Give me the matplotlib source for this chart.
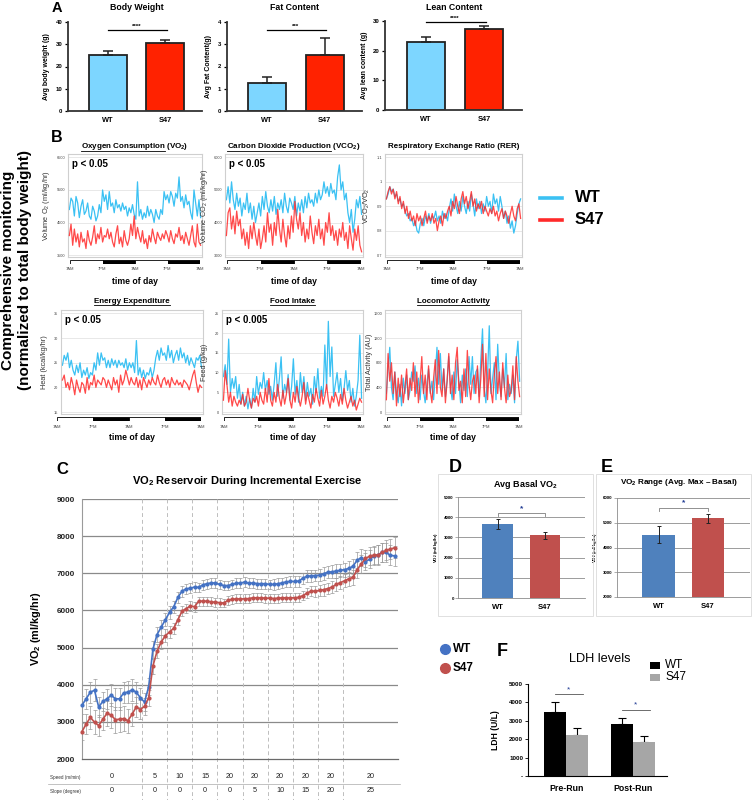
import numpy as np
import matplotlib
matplotlib.use("Agg")
import matplotlib.pyplot as plt
from matplotlib.patches import Rectangle
from matplotlib.lines import Line2D
import matplotlib.transforms as mtransforms

plt.rcParams['font.family'] = ['Liberation Sans', 'DejaVu Sans']
plt.rcParams['mathtext.fontset'] = 'custom'
plt.rcParams['mathtext.rm'] = 'Liberation Sans'
plt.rcParams['mathtext.it'] = 'Liberation Sans:italic'
plt.rcParams['mathtext.bf'] = 'Liberation Sans:bold'
plt.rcParams['mathtext.default'] = 'regular'

# ================= DATA =================
groups = ["WT", "S47"]

# Panel A
body_weight = [25.1, 30.6]
body_weight_err = [1.7, 1.2]
fat_content = [1.27, 2.53]
fat_content_err = [0.25, 0.77]
lean_content = [23.0, 27.2]
lean_content_err = [1.5, 1.0]

# Panel B (48 h recordings)
time_labels = ["7AM", "7PM", "7AM", "7PM", "7AM"]
time_ticks_h = [0, 12, 24, 36, 48]

vo2_wt_ts = [
    4900, 5250, 5150, 4700, 5300, 5100, 4650, 5000, 5200, 4750,
    4850, 5100, 4700, 4600, 5000, 4850, 4550, 4700, 5050, 4800,
    5500, 5150, 5350, 4900, 5450, 5000, 5100, 4800, 5200, 4950,
    5050, 4850, 5100, 4900, 5000, 4700, 4950, 4800, 5050, 4750,
    4600, 5750, 4700, 4900, 4600, 4800, 4650, 5000, 4700, 4900,
    4750, 4500, 4900, 4700, 4600, 4900, 4750, 5450, 5200, 5350,
    5100, 5450, 5300, 5000, 5400, 5250, 5900, 5150, 5300, 4950,
    5350, 5050, 5150, 4800, 4600, 5500, 5100, 4700, 5200, 4650]
vo2_s47_ts = [
    4100, 4450, 3800, 4300, 3900, 4150, 3750, 4200, 3900, 4000,
    3700, 4250, 3950, 3800, 4050, 4400, 3850, 4150, 4000, 4350,
    3900, 4100, 4050, 4300, 4000, 4200, 3900, 3750, 4150, 4400,
    3850, 4050, 3750, 4250, 3950, 3800, 4000, 4450, 4100, 4700,
    4000, 4350, 4100, 3900, 4250, 3850, 4000, 3700, 4100, 3900,
    4300, 4050, 3850, 4200, 4050, 3950, 4150, 4000, 4250, 4100,
    3900, 4250, 4000, 3850, 4150, 4050, 4350, 3950, 4100, 3850,
    4200, 4000, 3800, 4100, 4400, 3900, 3750, 4450, 3900, 3800]

vco2_wt_ts = [
    4700, 5100, 4600, 5250, 4700, 4400, 4900, 4500, 4750, 4200,
    4600, 4400, 4900, 4300, 4600, 4100, 4500, 4000, 4300, 4600,
    4200, 4800, 4400, 4950, 4500, 4300, 4700, 4350, 4800, 4250,
    4600, 4400, 4700, 4300, 4900, 4500, 4300, 4750, 4600, 4400,
    4800, 4200, 4600, 4350, 4700, 4300, 4800, 4450, 4900, 4600,
    4700, 4500, 4900, 4600, 5000, 4700, 4850, 5250, 4900, 5100,
    4800, 5200, 4900, 5000, 4700, 5400, 5770, 5000, 5250, 4700,
    4900, 4300, 4000, 4400, 3700, 4100, 4700, 4450, 4800, 4250]
vco2_s47_ts = [
    3600, 4300, 4450, 3800, 4200, 3650, 4350, 3900, 4100, 3500,
    3800, 3300, 3700, 3200, 3900, 3500, 4000, 3600, 3300, 3800,
    3200, 3500, 3900, 3400, 4300, 3700, 3950, 3300, 4000, 3600,
    4400, 3800, 3400, 4100, 3600, 3250, 3900, 3500, 4200, 3700,
    4650, 4100, 3800, 4300, 3600, 4000, 3400, 3800, 3500, 4200,
    3700, 3350, 3900, 3600, 4100, 3500, 3800, 3300, 4000, 3700,
    4300, 3600, 3900, 3450, 3750, 3300, 3800, 3550, 4000, 3450,
    3700, 3200, 3900, 3500, 3150, 3800, 3450, 3900, 3300, 3100]

rer_wt_ts = [
    0.93, 0.95, 0.98, 0.96, 0.97, 0.94, 0.95, 0.92, 0.93, 0.90,
    0.91, 0.88, 0.86, 0.87, 0.84, 0.85, 0.82, 0.84, 0.80, 0.79,
    0.83, 0.85, 0.82, 0.86, 0.84, 0.87, 0.83, 0.86, 0.85, 0.88,
    0.84, 0.86, 0.83, 0.88, 0.85, 0.87, 0.84, 0.89, 0.93, 0.88,
    0.95, 0.90, 0.87, 0.92, 0.88, 0.94, 0.90, 0.87, 0.92, 0.88,
    0.95, 0.91, 0.86, 0.93, 0.89, 0.92, 0.87, 0.91, 0.88, 0.94,
    0.90, 0.92, 0.87, 0.95, 0.91, 0.93, 0.88, 0.94, 0.90, 0.85,
    0.88, 0.83, 0.86, 0.81, 0.84, 0.79, 0.82, 0.87, 0.91, 0.93]
rer_s47_ts = [
    0.93, 0.96, 0.98, 0.95, 0.97, 0.93, 0.96, 0.91, 0.94, 0.89,
    0.92, 0.87, 0.90, 0.85, 0.88, 0.84, 0.86, 0.82, 0.87, 0.84,
    0.86, 0.82, 0.85, 0.88, 0.83, 0.86, 0.84, 0.87, 0.83, 0.85,
    0.80, 0.84, 0.86, 0.82, 0.87, 0.85, 0.88, 0.90, 0.86, 0.92,
    0.89, 0.94, 0.90, 0.87, 0.93, 0.96, 0.91, 0.94, 0.89, 0.92,
    0.96, 0.90, 0.93, 0.88, 0.91, 0.89, 0.92, 0.87, 0.90, 0.88,
    0.86, 0.89, 0.87, 0.90, 0.86, 0.88, 0.84, 0.87, 0.89, 0.85,
    0.88, 0.86, 0.83, 0.87, 0.90, 0.86, 0.84, 0.89, 0.91, 0.85]

ee_wt_ts = [
    24.5, 26.5, 25.5, 27.0, 24.0, 25.5, 23.5, 22.5, 24.5, 23.0,
    25.0, 22.0, 23.5, 22.5, 24.0, 21.8, 23.0, 22.5, 25.0, 23.5,
    27.0, 24.5, 27.0, 25.5, 26.0, 24.0, 25.5, 24.0, 25.8, 24.5,
    25.5, 24.0, 25.5, 24.5, 25.0, 24.0, 25.8, 23.5, 25.0, 24.0,
    25.0, 23.0, 29.5, 22.5, 24.0, 22.0, 23.5, 21.8, 23.0, 22.5,
    24.0, 22.0, 23.5, 26.0, 27.5, 25.5, 28.0, 26.5, 27.0, 25.5,
    28.5, 26.0, 27.5, 25.0, 26.5, 27.5, 25.5, 28.0, 26.0, 27.0,
    25.0, 26.5, 24.5, 26.0, 25.0, 24.0, 26.0, 25.5, 26.5, 24.0]
ee_s47_ts = [
    21.5, 22.5, 20.0, 21.0, 19.5, 22.0, 20.5, 18.5, 21.5, 20.0,
    19.0, 21.0, 20.5, 18.8, 22.0, 19.5, 21.0, 20.5, 22.5, 20.0,
    21.5, 21.0, 20.5, 22.0, 21.5, 20.0, 21.5, 20.5, 19.5, 22.0,
    20.5, 21.5, 19.0, 22.5, 20.5, 21.5, 23.5, 22.0, 20.5, 22.0,
    21.0, 20.5, 22.0, 20.0, 21.5, 19.5, 22.0, 21.0, 20.0, 21.5,
    20.5, 22.0, 21.0, 20.5, 22.5, 21.0, 20.0, 21.5, 22.0, 20.5,
    21.5, 20.0, 22.0, 21.0, 20.5, 21.5, 20.5, 21.0, 20.0, 21.5,
    21.0, 20.5, 19.5, 21.0, 22.5, 23.5, 21.0, 19.0, 20.5, 20.0]

food_wt_ts = [
    9.0, 12.0, 7.0, 18.5, 5.0, 8.5, 6.0, 9.0, 3.5, 7.0,
    2.0, 5.0, 1.5, 4.0, 0.8, 3.5, 1.0, 6.0, 2.5, 9.0,
    4.5, 7.5, 6.0, 10.0, 5.5, 8.0, 4.5, 6.5, 3.0, 7.0,
    12.5, 4.0, 8.5, 14.0, 3.5, 7.0, 5.0, 9.5, 3.0, 6.5,
    13.5, 4.5, 8.0, 2.5, 10.0, 5.0, 9.0, 3.0, 7.5, 4.0,
    6.0, 2.0, 9.0, 5.0, 11.0, 3.5, 6.5, 4.0, 17.0, 6.0,
    23.0, 9.0, 16.5, 4.0, 7.0, 10.0, 5.0, 8.5, 3.0, 6.0,
    10.5, 5.5, 8.0, 2.5, 6.0, 1.5, 4.0, 8.0, 19.5, 3.5]
food_s47_ts = [
    3.0, 10.5, 7.0, 2.5, 5.0, 1.5, 4.0, 2.5, 1.5, 3.0,
    2.0, 4.5, 1.5, 2.5, 6.0, 3.0, 1.0, 3.5, 2.5, 4.0,
    1.5, 5.0, 3.0, 2.0, 6.0, 2.5, 8.5, 3.0, 1.5, 5.0,
    2.5, 7.0, 3.5, 1.5, 5.5, 2.0, 4.5, 8.5, 3.0, 1.0,
    5.0, 2.5, 6.5, 3.5, 1.5, 4.0, 7.5, 2.0, 5.0, 3.0,
    1.0, 4.5, 2.5, 6.0, 3.5, 1.5, 5.5, 2.0, 4.0, 7.0,
    3.0, 1.0, 4.0, 2.5, 5.0, 3.5, 1.5, 4.5, 2.0, 6.0,
    3.0, 1.0, 2.5, 4.0, 1.5, 3.0, 0.5, 2.0, 3.5, 2.5]

loco_wt_ts = [
    300, 700, 1050, 400, 200, 650, 300, 150, 450, 100,
    550, 300, 600, 200, 350, 650, 500, 750, 300, 550,
    200, 600, 350, 150, 450, 700, 300, 500, 200, 600,
    1050, 450, 950, 350, 700, 250, 500, 900, 400, 200,
    650, 300, 850, 500, 150, 600, 350, 700, 250, 900,
    450, 900, 300, 650, 700, 250, 850, 1350, 400, 150,
    600, 1400, 300, 550, 800, 200, 1100, 500, 250, 700,
    400, 950, 200, 450, 300, 600, 150, 850, 1150, 500]
loco_s47_ts = [
    200, 950, 500, 800, 300, 650, 100, 550, 250, 600,
    150, 400, 700, 200, 550, 350, 800, 250, 650, 150,
    500, 900, 300, 600, 200, 750, 350, 150, 550, 850,
    300, 1000, 400, 250, 700, 150, 500, 950, 300, 600,
    200, 800, 1050, 350, 500, 150, 700, 250, 1000, 450,
    200, 500, 600, 300, 750, 150, 550, 1100, 250, 950,
    200, 700, 350, 150, 600, 900, 300, 650, 200, 800,
    400, 150, 600, 250, 350, 750, 200, 900, 500, 250]

# Panel C (incremental exercise, one point per sample)
vo2_ex_wt = [
    3450, 3620, 3800, 3850, 3400, 3550, 3620, 3720, 3620, 3620,
    3780, 3800, 3860, 3800, 3650, 3530, 3950, 4950, 5350, 5550,
    5750, 5950, 6100, 6350, 6520, 6580, 6600, 6630, 6620, 6690,
    6720, 6740, 6740, 6700, 6670, 6670, 6700, 6730, 6740, 6760,
    6730, 6740, 6720, 6720, 6720, 6700, 6700, 6720, 6740, 6770,
    6780, 6780, 6790, 6870, 6920, 6930, 6940, 6950, 6990, 7030,
    7040, 7060, 7080, 7100, 7130, 7190, 7350, 7420, 7310, 7380,
    7460, 7500, 7560, 7560, 7480, 7470]
vo2_ex_s47 = [
    2740, 2940, 3120, 2990, 2900, 3070, 3230, 3180, 3060, 3070,
    3090, 3030, 3200, 3400, 3330, 3420, 3650, 4500, 4900, 5150,
    5320, 5420, 5520, 5750, 5980, 6050, 6120, 6100, 6250, 6250,
    6250, 6230, 6220, 6210, 6200, 6270, 6300, 6310, 6310, 6310,
    6320, 6340, 6340, 6340, 6330, 6330, 6320, 6330, 6340, 6340,
    6340, 6340, 6350, 6400, 6470, 6520, 6520, 6540, 6560, 6590,
    6630, 6700, 6750, 6800, 6850, 6890, 7100, 7250, 7400, 7460,
    7490, 7490, 7560, 7620, 7650, 7690]
vo2_ex_wt_err = [
    250, 270, 280, 300, 280, 250, 270, 300, 290, 300,
    280, 300, 290, 280, 260, 240, 230, 220, 200, 200,
    180, 170, 160, 150, 150, 140, 130, 130, 130, 130,
    130, 130, 130, 130, 130, 130, 130, 130, 130, 130,
    130, 130, 130, 130, 130, 130, 140, 140, 140, 140,
    150, 150, 150, 150, 160, 160, 160, 170, 170, 170,
    180, 180, 180, 190, 200, 200, 220, 230, 230, 240,
    250, 260, 260, 260, 270, 270]
vo2_ex_s47_err = [
    230, 280, 300, 320, 280, 300, 330, 340, 350, 330,
    330, 320, 300, 280, 260, 230, 220, 200, 190, 180,
    170, 160, 150, 140, 140, 130, 130, 130, 120, 120,
    120, 120, 120, 120, 120, 120, 120, 120, 120, 120,
    120, 120, 120, 120, 120, 120, 120, 120, 120, 120,
    120, 120, 130, 130, 140, 140, 150, 150, 160, 160,
    170, 170, 180, 180, 190, 200, 220, 230, 240, 250,
    250, 260, 260, 270, 270, 280]
stage_bounds = [14.4, 20.4, 26.5, 32.5, 38.5, 44.5, 50.5, 56.6, 62.5]
speed = ["0", "5", "10", "15", "20", "20", "20", "20", "20", "20"]
slope = ["0", "0", "0", "0", "0", "5", "10", "15", "20", "25"]

# Panels D, E, F
basal_vo2 = [3660, 3110]
basal_vo2_err = [230, 180]
vo2_range = [4520, 5180]
vo2_range_err = [330, 170]
ldh_conditions = ["Pre-Run", "Post-Run"]
ldh_wt = [3500, 2830]
ldh_wt_err = [500, 300]
ldh_s47 = [2230, 1850]
ldh_s47_err = [370, 350]

# ================= FIGURE =================
W, H = 752, 800
fig = plt.figure(figsize=(W / 100, H / 100), dpi=100)
renderer = fig.canvas.get_renderer()


def add_ax(x0, y0, x1, y1):
    return fig.add_axes([x0 / W, 1 - y1 / H, (x1 - x0) / W, (y1 - y0) / H])


def ftext(x, y, s, **kw):
    return fig.text(x / W, 1 - y / H, s, **kw)


def ylab_at(ax, text, xpix, x0, x1, **kw):
    ax.set_ylabel(text, **kw)
    ax.yaxis.set_label_coords((xpix - x0) / (x1 - x0), 0.5)


def title_underlined(cx, y, full, part, size):
    t = ftext(cx, y, full, ha='center', va='center', fontsize=size, fontweight='bold')
    if part:
        bb = t.get_window_extent(renderer)
        tmp = fig.text(0, 0, part, fontsize=size, fontweight='bold')
        pw = tmp.get_window_extent(renderer).width
        tmp.remove()
        yl = bb.y0 + 0.2
        fig.add_artist(Line2D([bb.x0 / W, (bb.x0 + pw) / W], [yl / H, yl / H],
                              color='black', lw=0.6))


# ---------- Panel A ----------
C_A_WT, C_A_S47 = '#7DD6FF', '#FF2200'
ftext(57, 8, 'A', fontsize=10.5, fontweight='bold', ha='center', va='center')


def bar_panel_A(x0, x1, vals, errs, ymax, yticks, ylabel, ylab_x, sig_y, stars,
                title, title_x, ytop=22, ybot=111):
    ax = add_ax(x0, ytop, x1, ybot)
    xs = np.arange(len(groups))
    ax.bar(xs, vals, width=0.66, color=[C_A_WT, C_A_S47], edgecolor='#222222',
           linewidth=1.3, zorder=2)
    ax.errorbar(xs, vals, yerr=[[0] * len(errs), errs], fmt='none', ecolor='#222222',
                elinewidth=1.1, capsize=3.6, capthick=1.1, zorder=3)
    ax.set_xlim(-0.7, 1.65)
    ax.set_ylim(0, ymax)
    ax.set_yticks(yticks)
    ax.set_yticklabels([str(v) for v in yticks], fontsize=4.3, fontweight='bold')
    ax.set_xticks(xs)
    ax.set_xticklabels(groups, fontsize=5.3, fontweight='bold')
    ax.tick_params(axis='x', length=0, pad=4)
    ax.tick_params(axis='y', length=2.5, width=0.9, pad=1.5)
    for s in ['top', 'right']:
        ax.spines[s].set_visible(False)
    for s in ['left', 'bottom']:
        ax.spines[s].set_linewidth(1.3)
        ax.spines[s].set_color('#333333')
    ylab_at(ax, ylabel, ylab_x, x0, x1, fontsize=5.0, fontweight='bold')
    ax.plot([0, 1.03], [sig_y, sig_y], color='black', lw=0.9, clip_on=False)
    ax.text(0.5, sig_y + ymax * 0.012, stars, ha='center', va='bottom', fontsize=4.5,
            fontweight='bold', clip_on=False)
    ftext(title_x, 7, title, ha='center', va='center', fontsize=6.3, fontweight='bold')
    return ax


bar_panel_A(68, 202, body_weight, body_weight_err, 40, [0, 10, 20, 30, 40],
            'Avg body weight (g)', 50, 36.6, '****', 'Body Weight', 137)
bar_panel_A(227, 362, fat_content, fat_content_err, 4, [0, 1, 2, 3, 4],
            'Avg Fat Content(g)', 212, 3.65, '***', 'Fat Content', 295)
bar_panel_A(385, 522, lean_content, lean_content_err, 30, [0, 10, 20, 30],
            'Avg lean content (g)', 368, 29.5, '****', 'Lean Content', 454,
            ytop=21, ybot=110)

# ---------- Panel B ----------
C_B_WT, C_B_S47 = '#3BC1F3', '#FF2A2A'
ftext(57, 137, 'B', fontsize=11.5, fontweight='bold', ha='center', va='center')


def ts_panel(x0, x1, y0, y1, wt, s47, lo, hi, yticks, yticklabels, ylabel, ylab_x,
             ptext, bar_y0, tl_y, tod_y, title, title_under, title_y, bar_x0=None):
    ax = add_ax(x0, y0, x1, y1)
    t = np.linspace(0, 48, len(wt))
    for yv in yticks:
        ax.axhline(yv, color='#e4e4e4', lw=0.6, zorder=0)
    ax.plot(t, wt, color=C_B_WT, lw=0.9, zorder=2)
    ax.plot(t, s47, color=C_B_S47, lw=0.9, alpha=0.85, zorder=3)
    ax.set_xlim(-0.5, 48.5)
    rng = hi - lo
    ax.set_ylim(lo - 0.02 * rng, hi + 0.035 * rng)
    ax.set_xticks([])
    ax.set_yticks(yticks)
    ax.set_yticklabels(yticklabels, fontsize=2.8, color='#444444')
    ax.tick_params(axis='y', length=0, pad=2)
    for s in ax.spines.values():
        s.set_color('#cfcfcf')
        s.set_linewidth(0.8)
    ylab_at(ax, ylabel, ylab_x, x0, x1, fontsize=5.3, color='#333333')
    if ptext:
        ax.text(0.03, 0.9, ptext, transform=ax.transAxes, fontsize=7, fontweight='bold',
                va='center', ha='left')
    # light/dark bar
    bx0 = x0 + 2 if bar_x0 is None else bar_x0
    bax = add_ax(bx0, bar_y0, x1 - 2, bar_y0 + 4)
    bax.set_xlim(0, 48)
    bax.set_ylim(0, 1)
    for k in range(4):
        bax.add_patch(Rectangle((12 * k, 0), 12, 1, facecolor='white' if k % 2 == 0 else 'black',
                                edgecolor='black', lw=0.6))
    bax.axis('off')
    tr = mtransforms.blended_transform_factory(bax.transData, fig.transFigure)
    for th, lab in zip(time_ticks_h, time_labels):
        bax.text(th, 1 - tl_y / H, lab, transform=tr, ha='center', va='center',
                 fontsize=3.0, color='#444444')
    ftext((x0 + x1) / 2, tod_y, 'time of day', ha='center', va='center', fontsize=6.2,
          fontweight='bold')
    title_underlined((x0 + x1) / 2, title_y, title, title_under, 5.8)
    return ax


TOP = dict(y0=154, y1=257, bar_y0=260, tl_y=269, tod_y=281, title_y=146)
BOT = dict(y0=310, y1=414, bar_y0=417, tl_y=427, tod_y=437, title_y=302)

ts_panel(68, 202, wt=vo2_wt_ts, s47=vo2_s47_ts, lo=3500, hi=6500,
         yticks=[3500, 4500, 5500, 6500], yticklabels=['3500', '4500', '5500', '6500'],
         ylabel='Volume O$_2$ (ml/kg/hr)', ylab_x=52, ptext='p < 0.05',
         title='Oxygen Consumption (VO$_2$)', title_under='Oxygen Consumption', **TOP)
ts_panel(225, 363, wt=vco2_wt_ts, s47=vco2_s47_ts, lo=3000, hi=6000,
         yticks=[3000, 4000, 5000, 6000], yticklabels=['3000', '4000', '5000', '6000'],
         ylabel='Volume CO$_2$ (ml/kg/hr)', ylab_x=210, ptext='p < 0.05',
         title='Carbon Dioxide Production (VCO$_2$)', title_under='Carbon Dioxide Production', **TOP)
ts_panel(385, 522, wt=rer_wt_ts, s47=rer_s47_ts, lo=0.7, hi=1.1,
         yticks=[0.7, 0.8, 0.9, 1.0, 1.1], yticklabels=['0.7', '0.8', '0.9', '1', '1.1'],
         ylabel='VCO$_2$/VO$_2$', ylab_x=372, ptext=None,
         title='Respiratory Exchange Ratio (RER)', title_under=None, **TOP)
ts_panel(61, 203, wt=ee_wt_ts, s47=ee_s47_ts, lo=15, hi=35,
         yticks=[15, 20, 25, 30, 35], yticklabels=['15', '20', '25', '30', '35'],
         ylabel='Heat (kcal/kg/hr)', ylab_x=48, ptext='p < 0.05',
         title='Energy Expenditure', title_under='Energy Expenditure', bar_x0=57, **BOT)
ts_panel(222, 363, wt=food_wt_ts, s47=food_s47_ts, lo=0, hi=25,
         yticks=[0, 5, 10, 15, 20, 25], yticklabels=['0', '5', '10', '15', '20', '25'],
         ylabel='Feed (g/kg)', ylab_x=208, ptext='p < 0.005',
         title='Food Intake', title_under='Food Intake', **BOT)
ts_panel(385, 521, wt=loco_wt_ts, s47=loco_s47_ts, lo=0, hi=1600,
         yticks=[0, 400, 800, 1200, 1600], yticklabels=['0', '400', '800', '1200', '1600'],
         ylabel='Total Activity (AU)', ylab_x=373, ptext=None,
         title='Locomotor Activity', title_under='Locomotor Activity', **BOT)

# legend B
for yy, col, lab in [(198, C_B_WT, 'WT'), (220, C_B_S47, 'S47')]:
    fig.add_artist(Line2D([540 / W, 562 / W], [1 - yy / H, 1 - yy / H], color=col, lw=2.6))
    ftext(575, yy, lab, fontsize=12, fontweight='bold', va='center', ha='left')

# side label
ftext(8, 270, 'Comprehensive monitoring', rotation=90, ha='center', va='center',
      fontsize=11, fontweight='bold')
ftext(25, 270, '(normalized to total body weight)', rotation=90, ha='center', va='center',
      fontsize=11, fontweight='bold')

# ---------- Panel C ----------
C_C_WT, C_C_S47 = '#4472C4', '#C0504D'
ftext(62, 470, 'C', fontsize=12, fontweight='bold', ha='center', va='center')
ftext(247, 481, 'VO$_2$ Reservoir During Incremental Exercise', fontsize=8,
      fontweight='bold', ha='center', va='center')
axc = add_ax(82, 499, 398, 759)
idx = np.arange(len(vo2_ex_wt))
axc.set_xlim(0, 75.8)
axc.set_ylim(2000, 9000)
for yv in range(3000, 9001, 1000):
    axc.axhline(yv, color='#8a8a8a', lw=0.9, zorder=0)
ybottom_val = 2000 - (800 - 759) / 260 * 7000
for b in stage_bounds:
    axc.plot([b, b], [9000, ybottom_val], color='#bdbdbd', lw=0.7, ls=(0, (4, 3)),
             clip_on=False, zorder=0)
axc.errorbar(idx, vo2_ex_wt, yerr=vo2_ex_wt_err, fmt='none', ecolor='#9a9a9a',
             elinewidth=0.5, capsize=1.3, capthick=0.5, zorder=1)
axc.errorbar(idx, vo2_ex_s47, yerr=vo2_ex_s47_err, fmt='none', ecolor='#9a9a9a',
             elinewidth=0.5, capsize=1.3, capthick=0.5, zorder=1)
axc.plot(idx, vo2_ex_wt, '-o', color=C_C_WT, ms=2.0, lw=1.2, zorder=3, clip_on=False)
axc.plot(idx, vo2_ex_s47, '-o', color=C_C_S47, ms=2.0, lw=1.2, zorder=4, clip_on=False)
axc.set_yticks(range(2000, 9001, 1000))
axc.set_yticklabels([str(v) for v in range(2000, 9001, 1000)], fontsize=5.8,
                    fontweight='bold', color='#222222')
axc.set_xticks([])
axc.tick_params(axis='y', length=0, pad=5)
for s in ['top', 'right']:
    axc.spines[s].set_visible(False)
axc.spines['left'].set_color('#9a9a9a')
axc.spines['left'].set_linewidth(0.8)
axc.spines['bottom'].set_color('#6a6a6a')
axc.spines['bottom'].set_linewidth(0.9)
ylab_at(axc, 'VO$_2$ (ml/kg/hr)', 43, 82, 398, fontsize=7.8, fontweight='bold')

# speed / slope table
stage_edges = [0] + stage_bounds + [75.8]
centers = [(stage_edges[i] + stage_edges[i + 1]) / 2 for i in range(len(stage_edges) - 1)]
trc = mtransforms.blended_transform_factory(axc.transData, fig.transFigure)
ftext(50, 777, 'Speed (m/min)', fontsize=3.3, va='center', ha='left', color='#333333')
ftext(50, 791, 'Slope (degree)', fontsize=3.3, va='center', ha='left', color='#333333')
for c, sp, sl in zip(centers, speed, slope):
    axc.text(c, 1 - 777 / H, sp, transform=trc, ha='center', va='center', fontsize=5.2,
             color='#222222')
    axc.text(c, 1 - 791 / H, sl, transform=trc, ha='center', va='center', fontsize=5.2,
             color='#222222')
fig.add_artist(Line2D([48 / W, 400 / W], [1 - 784 / H, 1 - 784 / H], color='#aaaaaa', lw=0.5))

# legend C
for yy, col, lab in [(649, C_C_WT, 'WT'), (668, C_C_S47, 'S47')]:
    fig.add_artist(Line2D([445 / W], [1 - yy / H], marker='o', ms=7, color=col, lw=0))
    ftext(453, yy, lab, fontsize=8.5, fontweight='bold', va='center', ha='left')

# ---------- Panels D & E ----------
C_D_WT, C_D_S47 = '#4F81BD', '#C0504D'
for bx in [(438, 474, 593, 616), (596, 474, 751, 616)]:
    fig.add_artist(Rectangle((bx[0] / W, 1 - bx[3] / H), (bx[2] - bx[0]) / W,
                             (bx[3] - bx[1]) / H, transform=fig.transFigure,
                             fill=False, edgecolor='#dadada', lw=0.6))


def excel_bar(x0, x1, y0, y1, vals, errs, lo, hi, step, ylab_x, bracket_y, title, title_x,
              title_y, title_fs, letter, letter_xy):
    ax = add_ax(x0, y0, x1, y1)
    xs = np.arange(len(groups))
    for yv in range(lo + step, hi + 1, step):
        ax.axhline(yv, color='#8c8c8c', lw=0.6, zorder=0)
    ax.bar(xs, vals, width=0.65, color=[C_D_WT, C_D_S47], zorder=2)
    ax.errorbar(xs, vals, yerr=errs, fmt='none', ecolor='#222222', elinewidth=0.7,
                capsize=1.4, capthick=0.7, zorder=3)
    ax.set_xlim(-0.84, 1.85)
    ax.set_ylim(lo, hi)
    ax.set_yticks(range(lo, hi + 1, step))
    ax.set_yticklabels([str(v) for v in range(lo, hi + 1, step)], fontsize=3.2,
                       fontweight='bold')
    ax.set_xticks(xs)
    ax.set_xticklabels(groups, fontsize=5.5, fontweight='bold')
    ax.tick_params(axis='x', length=0, pad=4)
    ax.tick_params(axis='y', length=2, width=0.5, color='#8c8c8c', pad=1.0)
    for s in ['top', 'right']:
        ax.spines[s].set_visible(False)
    for s in ['left', 'bottom']:
        ax.spines[s].set_color('#8c8c8c')
        ax.spines[s].set_linewidth(0.6)
    ylab_at(ax, 'VO$_2$ (ml/kg/hr)', ylab_x, x0, x1, fontsize=3.2, fontweight='bold')
    d = (hi - lo) * 0.03
    ax.plot([0, 0, 1, 1], [bracket_y - d, bracket_y, bracket_y, bracket_y - d],
            color='#7f7f7f', lw=0.6, zorder=4)
    ax.text(0.5, bracket_y + d * 0.4, '*', ha='center', va='bottom', fontsize=6,
            color='#1F3A93', fontweight='bold')
    ftext(title_x, title_y, title, ha='center', va='center', fontsize=title_fs,
          fontweight='bold')
    ftext(letter_xy[0], letter_xy[1], letter, fontsize=13, fontweight='bold', ha='center',
          va='center')
    return ax


excel_bar(458, 585, 497, 598, basal_vo2, basal_vo2_err, 0, 5000, 1000, 440, 4200,
          'Avg Basal VO$_2$', 525, 485, 6.5, 'D', (455, 467))
excel_bar(617, 750, 498, 597, vo2_range, vo2_range_err, 2000, 6000, 1000, 599, 5600,
          'VO$_2$ Range (Avg. Max – Basal)', 679, 483, 5.9, 'E', (607, 467))

# ---------- Panel F ----------
ftext(502, 652, 'F', fontsize=13, fontweight='bold', ha='center', va='center')
ftext(600, 659, 'LDH levels', fontsize=9.2, ha='center', va='center')
axf = add_ax(528, 684, 667, 776)
xs = np.arange(len(ldh_conditions))
bw = 0.33
axf.bar(xs - bw / 2, ldh_wt, width=bw, color='black', zorder=2)
axf.bar(xs + bw / 2, ldh_s47, width=bw, color='#A6A6A6', zorder=2)
axf.errorbar(xs - bw / 2, ldh_wt, yerr=[[0, 0], ldh_wt_err], fmt='none', ecolor='black',
             elinewidth=0.8, capsize=2.6, capthick=0.8, zorder=1)
axf.errorbar(xs + bw / 2, ldh_s47, yerr=[[0, 0], ldh_s47_err], fmt='none', ecolor='black',
             elinewidth=0.8, capsize=2.6, capthick=0.8, zorder=1)
axf.set_xlim(-0.57, 1.51)
axf.set_ylim(0, 5000)
axf.set_yticks(range(0, 5001, 1000))
axf.set_yticklabels(['-', '1000', '2000', '3000', '4000', '5000'], fontsize=4.5,
                    fontweight='bold')
axf.set_xticks(xs)
axf.set_xticklabels(ldh_conditions, fontsize=6.3, fontweight='bold')
axf.tick_params(axis='x', length=0, pad=6)
axf.tick_params(axis='y', length=2, width=0.6, pad=1.5)
for s in ['top', 'right']:
    axf.spines[s].set_visible(False)
for s in ['left', 'bottom']:
    axf.spines[s].set_linewidth(0.8)
ylab_at(axf, 'LDH (U/L)', 500, 528, 667, fontsize=6.2, fontweight='bold')
for (xa, xb, yv) in [(-0.165, 0.25, 4450), (0.84, 1.25, 3590)]:
    axf.plot([xa, xb], [yv, yv], color='#555555', lw=0.6)
    axf.text((xa + xb) / 2, yv + 60, '*', ha='center', va='bottom', fontsize=6,
             color='#1F3A93')
for yy, col, lab in [(665, 'black', 'WT'), (677, '#A6A6A6', 'S47')]:
    fig.add_artist(Rectangle((650 / W, 1 - (yy + 3.5) / H), 10 / W, 7 / H,
                             transform=fig.transFigure, facecolor=col, edgecolor='none'))
    ftext(665, yy, lab, fontsize=8.5, va='center', ha='left')

fig.savefig('out.png', dpi=100)
